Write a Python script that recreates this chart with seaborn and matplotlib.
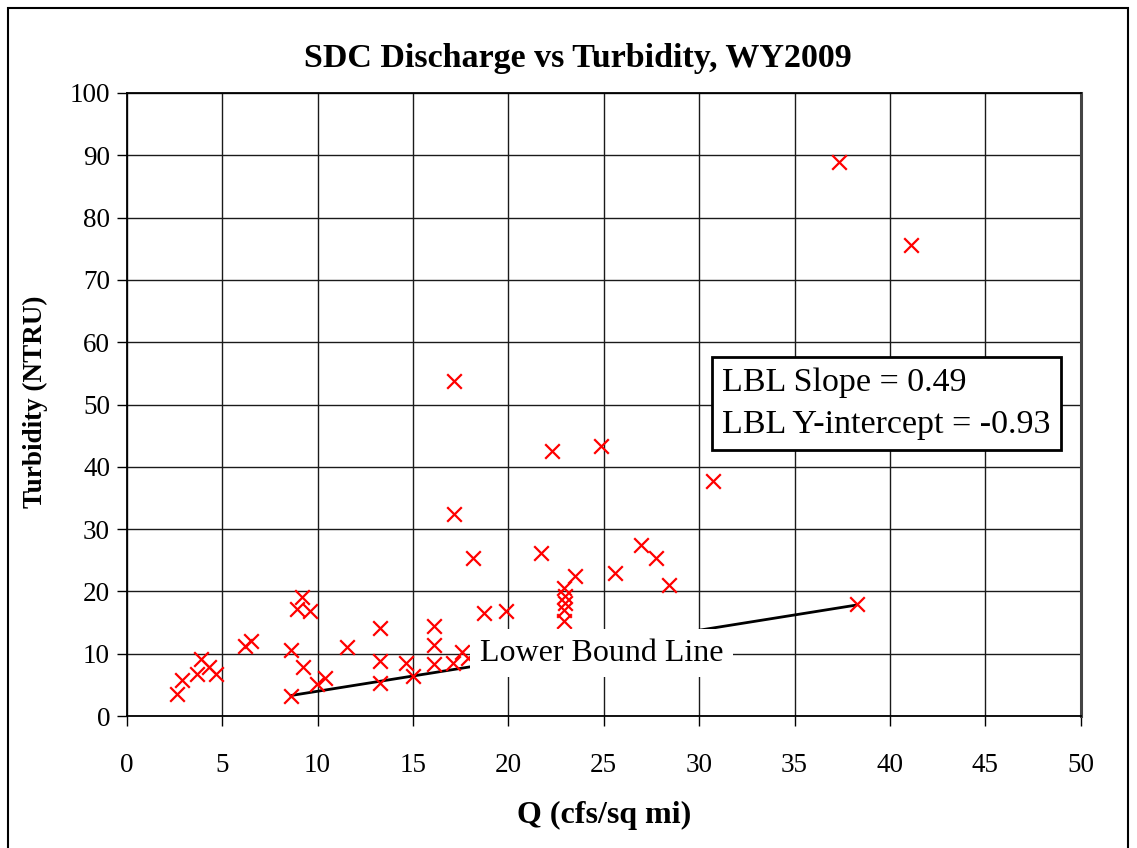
import matplotlib
matplotlib.use("Agg")
import matplotlib.pyplot as plt
import seaborn as sns
import pandas as pd
from matplotlib.patches import Rectangle

# discharge (cfs/sq mi) and turbidity (NTRU)
q = [2.63, 2.89, 3.67, 3.88, 4.33, 4.68, 6.2, 6.5, 8.59, 8.59,
     8.9, 9.21, 9.6, 9.25, 9.95, 10.38, 11.57, 13.26, 13.26, 13.26,
     14.62, 15.0, 16.1, 16.1, 16.1, 17.09, 17.55, 17.9, 17.13, 17.13,
     18.17, 18.72, 19.89, 21.69, 22.27, 22.9, 22.95, 22.95, 22.9, 22.9,
     23.51, 24.88, 25.6, 26.98, 27.73, 28.43, 30.73, 37.35, 38.27, 41.12]
turb = [3.5, 5.7, 6.7, 9.2, 7.8, 6.7, 11.25, 12.05, 10.6, 3.2,
        17.2, 19.1, 16.9, 7.8, 5.1, 6.05, 11.0, 14.1, 8.84, 5.25,
        8.57, 6.5, 14.5, 11.4, 8.3, 8.5, 10.3, 9.3, 53.75, 32.4,
        25.35, 16.5, 16.9, 26.15, 42.6, 20.6, 19.3, 18.1, 17.0, 15.3,
        22.5, 43.3, 22.9, 27.5, 25.35, 21.06, 37.7, 88.95, 17.96, 75.6]

# lower bound line end points
lbl_q = [8.59, 38.27]
lbl_t = [3.28, 17.82]

x_ticks = [0, 5, 10, 15, 20, 25, 30, 35, 40, 45, 50]
y_ticks = [0, 10, 20, 30, 40, 50, 60, 70, 80, 90, 100]

sns.set_style("white")
plt.rcParams['font.family'] = ['Liberation Serif', 'DejaVu Serif']
plt.rcParams['text.color'] = 'black'
plt.rcParams['xtick.color'] = 'black'
plt.rcParams['ytick.color'] = 'black'

df = pd.DataFrame({"Q": q, "Turbidity": turb})

fig = plt.figure(figsize=(11.37, 8.48), dpi=100)
ax = fig.add_axes([126.7 / 1137, 1 - 716 / 848, (1080.7 - 126.7) / 1137, (716 - 93) / 848])

#grid first so it sits under everything
ax.set_axisbelow(True)
ax.grid(True, color='#1a1a1a', linewidth=1.0)

sns.lineplot(x=lbl_q, y=lbl_t, color='black', linewidth=2.0, ax=ax, zorder=3)
sns.scatterplot(data=df, x="Q", y="Turbidity", marker='x', color='red',
                s=110, linewidth=1.6, ax=ax, zorder=4)

ax.set_xlim(0, 50)
ax.set_ylim(0, 100)
ax.set_xticks(x_ticks)
ax.set_yticks(y_ticks)
ax.tick_params(axis='both', direction='out', length=7, width=1, color='black',
               labelcolor='black', labelsize=19.5, bottom=True, left=True, pad=5)
ax.tick_params(axis='x', pad=20)
for side in ['left', 'bottom', 'top', 'right']:
    ax.spines[side].set_color('black')
    ax.spines[side].set_linewidth(1.3)
ax.spines['right'].set_color('#444444')
ax.spines['right'].set_linewidth(2.2)

ax.set_xlabel('')
ax.set_ylabel('')
fig.text(604 / 1137, 1 - 815 / 848, 'Q (cfs/sq mi)', ha='center', va='center',
         fontsize=23, fontweight='bold')
fig.text(35 / 1137, 1 - 402 / 848, 'Turbidity (NTRU)', ha='center', va='center',
         rotation=90, fontsize=19.5, fontweight='bold')
fig.text(578 / 1137, 1 - 58 / 848, 'SDC Discharge vs Turbidity, WY2009',
         ha='center', va='center', fontsize=24.5, fontweight='bold')

# data label for the lower bound line
ax.text(18.5, 10.1, 'Lower Bound Line', fontsize=23, ha='left', va='center',
        zorder=5, bbox=dict(boxstyle='square,pad=0.3', facecolor='white', edgecolor='none'))

ax.text(31.2, 50.1, 'LBL Slope = 0.49\nLBL Y-intercept = -0.93', fontsize=24.5,
        ha='left', va='center', linespacing=1.5, zorder=5,
        bbox=dict(boxstyle='square,pad=0.3', facecolor='white', edgecolor='black', linewidth=2))

# chart border
fig.patches.append(Rectangle((8 / 1137, -0.05), 1120 / 1137, 1 - 8 / 848 + 0.05,
                             transform=fig.transFigure, fill=False, edgecolor='black', linewidth=1.5))

fig.savefig('out.png', dpi=100)
